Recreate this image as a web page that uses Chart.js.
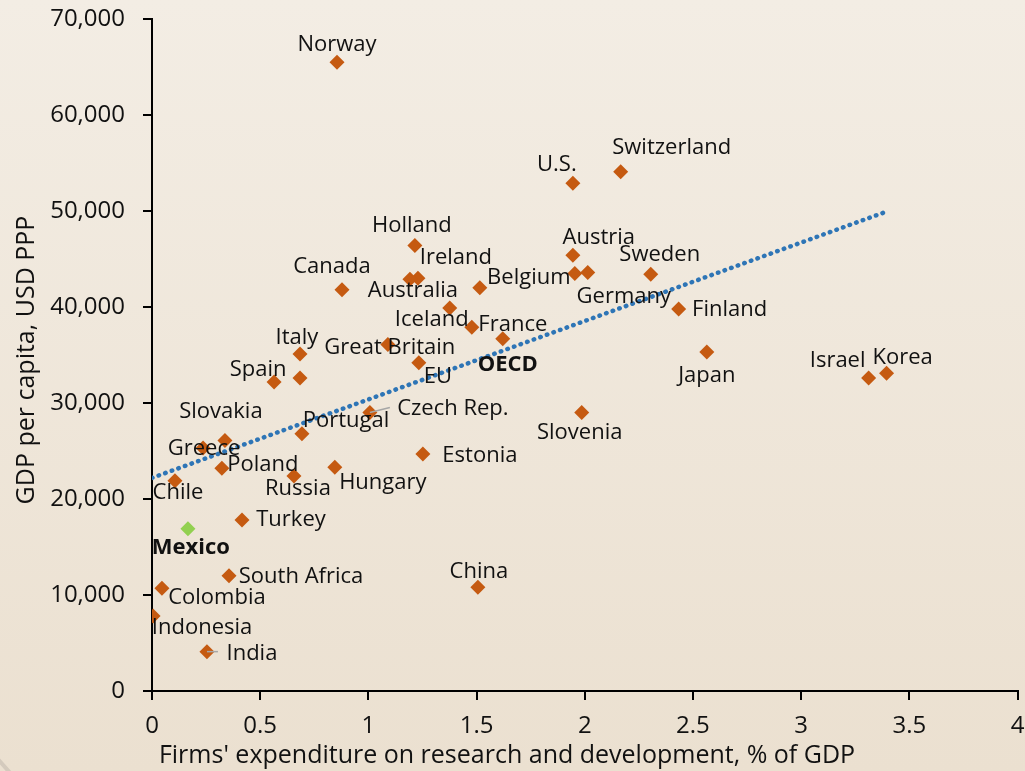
<!DOCTYPE html>
<html>
<head>
<meta charset="utf-8">
<script src="https://cdn.jsdelivr.net/npm/chart.js@4.4.1/dist/chart.umd.min.js"></script>
<style>
  html, body { margin: 0; padding: 0; background: #efe7dc; }
  #wrap { width: 1025px; height: 771px; position: relative; }
</style>
</head>
<body>
<div id="wrap"><canvas id="rdChart" width="1025" height="771"></canvas></div>
<script>
// countries, R&D spend by firms (% of GDP), GDP per capita (USD PPP)
const countries = [
  'Norway', 'U.S.', 'Switzerland', 'Holland', 'Ireland', 'Australia', 'Canada',
  'Belgium', 'Iceland', 'France', 'OECD', 'Great Britain', 'EU', 'Austria',
  '', 'Germany', 'Sweden', 'Finland', 'Japan', 'Israel', 'Korea', 'Italy',
  'Spain', '', 'Czech Rep.', 'Portugal', 'Slovakia', 'Greece', 'Poland',
  'Chile', 'Russia', 'Hungary', 'Estonia', 'Slovenia', 'Turkey', 'Mexico',
  'South Africa', 'Colombia', 'Indonesia', 'India', 'China'
];
const rdShare = [
  0.855, 1.945, 2.166, 1.215, 1.229, 1.192, 0.878,
  1.515, 1.376, 1.478, 1.621, 1.090, 1.233, 1.945,
  1.954, 2.014, 2.305, 2.434, 2.564, 3.312, 3.395, 0.684,
  0.564, 0.684, 1.007, 0.693, 0.337, 0.236, 0.323,
  0.106, 0.656, 0.845, 1.252, 1.986, 0.416, 0.166,
  0.356, 0.046, 0.005, 0.254, 1.506
];
const gdpPerCapita = [
  65500, 52900, 54100, 46400, 43000, 42900, 41800,
  42000, 39900, 37900, 36700, 36100, 34200, 45400,
  43500, 43600, 43400, 39800, 35300, 32600, 33100, 35100,
  32200, 32600, 29000, 26800, 26100, 25300, 23200,
  21900, 22400, 23300, 24700, 29000, 17800, 16900,
  12000, 10700, 7800, 4100, 10800
];
const trendX = [0, 3.39];
const trendY = [22200, 49900];
const xTicks = [0, 0.5, 1, 1.5, 2, 2.5, 3, 3.5, 4];
const yTicks = [0, 10000, 20000, 30000, 40000, 50000, 60000, 70000];
const highlight = 'Mexico';
const boldLabels = ['Mexico', 'OECD'];

// label placement relative to the marker (px)
const labelOffsets = [
  [0, -17], [-16, -18], [51, -24], [-3, -20], [38, -20], [3, 12], [-10, -23],
  [49, -10], [-18, 12], [41, -2], [5, 26], [2, 3], [19, 14], [26, -17],
  [0, 0], [36, 24], [9, -20], [51, 1], [0, 24], [-31, -17], [16, -16], [-3, -16],
  [-16, -12], [0, 0], [83, -4], [44, -13], [-4, -29], [1, 1], [41, -4],
  [3, 12], [4, 13], [48, 15], [57, 2], [-2, 20], [49, 0], [3, 19],
  [72, 1], [55, 9], [49, 12], [45, 2], [1, -16]
];
const leaders = { 'Czech Rep.': [20, -5], 'India': [11, 0] };

const FONT = "'Open Sans', 'Noto Sans', sans-serif";
const orange = '#c55a11';
const green = '#92d050';

const points = countries.map((c, i) => ({ x: rdShare[i], y: gdpPerCapita[i] }));

const bgPlugin = {
  id: 'bg',
  beforeDraw(chart) {
    const ctx = chart.ctx;
    const g = ctx.createLinearGradient(0, 0, 0, chart.height);
    g.addColorStop(0, '#f3ede4');
    g.addColorStop(1, '#ebe0d0');
    ctx.save();
    ctx.fillStyle = g;
    ctx.fillRect(0, 0, chart.width, chart.height);
    // slide decoration arc, bottom left
    ctx.beginPath();
    ctx.arc(560, 270, 745, Math.PI * 0.72, Math.PI * 0.85);
    ctx.strokeStyle = '#d4cabd';
    ctx.lineWidth = 4;
    ctx.stroke();
    ctx.restore();
  }
};

const labelPlugin = {
  id: 'pointLabels',
  afterDatasetsDraw(chart) {
    const ctx = chart.ctx;
    const meta = chart.getDatasetMeta(1);
    ctx.save();
    ctx.textAlign = 'center';
    ctx.textBaseline = 'middle';
    meta.data.forEach((el, i) => {
      const name = countries[i];
      if (!name) return;
      if (leaders[name]) {
        ctx.beginPath();
        ctx.moveTo(el.x, el.y);
        ctx.lineTo(el.x + leaders[name][0], el.y + leaders[name][1]);
        ctx.strokeStyle = '#a6a6a6';
        ctx.lineWidth = 1.5;
        ctx.stroke();
      }
      const bold = boldLabels.includes(name);
      ctx.font = (bold ? 'bold ' : '') + '22px ' + FONT;
      ctx.fillStyle = '#111';
      ctx.fillText(name, el.x + labelOffsets[i][0], el.y + labelOffsets[i][1]);
    });
    // axis titles
    ctx.font = '25px ' + FONT;
    ctx.fillText("Firms' expenditure on research and development, % of GDP", 507, 756);
    ctx.translate(27, 360);
    ctx.rotate(-Math.PI / 2);
    ctx.fillText('GDP per capita, USD PPP', 0, 0);
    ctx.restore();
  }
};

// drop the automatic label overflow padding so the plot area is set by layout.padding
const noAutoPad = s => {
  s.paddingTop = 0; s.paddingBottom = 0; s.paddingLeft = 0; s.paddingRight = 0;
};

new Chart(document.getElementById('rdChart'), {
  type: 'scatter',
  data: {
    datasets: [
      {
        type: 'line',
        data: trendX.map((x, i) => ({ x: x, y: trendY[i] })),
        borderColor: '#2e75b6',
        borderWidth: 4.5,
        borderDash: [0.5, 6.5],
        borderCapStyle: 'round',
        pointRadius: 0,
        fill: false
      },
      {
        data: points,
        pointStyle: 'rectRot',
        pointRadius: 7.5,
        pointBorderWidth: 0,
        pointBackgroundColor: countries.map(c => c === highlight ? green : orange),
        pointBorderColor: countries.map(c => c === highlight ? green : orange)
      }
    ]
  },
  options: {
    responsive: false,
    animation: false,
    layout: { padding: { top: 19, right: 7, left: 0, bottom: 0 } },
    plugins: { legend: { display: false }, tooltip: { enabled: false } },
    scales: {
      x: {
        type: 'linear',
        min: 0, max: 4,
        afterBuildTicks: s => { s.ticks = xTicks.map(v => ({ value: v })); },
        afterFit: s => { s.height = 80; noAutoPad(s); },
        grid: { drawOnChartArea: false, drawTicks: true, tickLength: 9, color: '#000', lineWidth: 2 },
        border: { color: '#000', width: 2 },
        ticks: {
          color: '#111', font: { family: FONT, size: 24 }, padding: 12, maxRotation: 0,
          callback: v => String(v)
        }
      },
      y: {
        min: 0, max: 70000,
        afterBuildTicks: s => { s.ticks = yTicks.map(v => ({ value: v })); },
        afterFit: s => { s.width = 152; noAutoPad(s); },
        grid: { drawOnChartArea: false, drawTicks: true, tickLength: 9, color: '#000', lineWidth: 2 },
        border: { color: '#000', width: 2 },
        ticks: {
          color: '#111', font: { family: FONT, size: 24 }, padding: 18,
          callback: v => v.toLocaleString('en-US')
        }
      }
    }
  },
  plugins: [bgPlugin, labelPlugin]
});
</script>
</body>
</html>
